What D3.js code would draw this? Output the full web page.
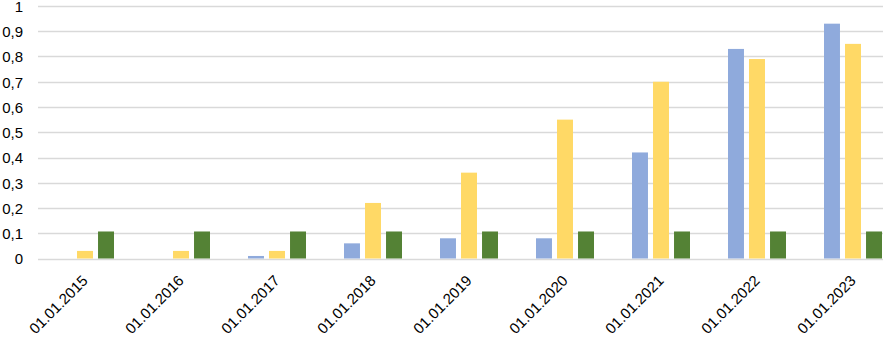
<!DOCTYPE html>
<html>
<head>
<meta charset="utf-8">
<script src="https://cdn.jsdelivr.net/npm/d3@7"></script>
<style>
  body { margin: 0; background: #fff; }
  svg { display: block; font-family: "Liberation Sans", Arial, sans-serif; }
</style>
</head>
<body>
<div id="chart"></div>
<script>
// data
const categories = ["01.01.2015", "01.01.2016", "01.01.2017", "01.01.2018", "01.01.2019",
    "01.01.2020", "01.01.2021", "01.01.2022", "01.01.2023"];
const seriesNames = ["s1", "s2", "s3"];
const blueValues = [0, 0, 0.01, 0.06, 0.08, 0.08, 0.42, 0.83, 0.93];
const yellowValues = [0.03, 0.03, 0.03, 0.22, 0.34, 0.55, 0.70, 0.79, 0.85];
const greenValues = [0.107, 0.107, 0.107, 0.107, 0.107, 0.107, 0.107, 0.107, 0.107];
const yTicks = [0, 0.1, 0.2, 0.3, 0.4, 0.5, 0.6, 0.7, 0.8, 0.9, 1];
const colors = ["#8faadc", "#ffd966", "#548235"];

const width = 883, height = 337;

var svg = d3.select('#chart')
    .append('svg')
    .attr('width', width)
    .attr('height', height);

// plot runs past the right edge of the picture, as in the reference
let x0 = d3.scaleBand()
    .domain(categories)
    .range([37, 901]);

let x1 = d3.scaleBand()
    .domain(seriesNames)
    .range([19, 77])
    .paddingInner(0.24);

let y = d3.scaleLinear()
    .domain([0, 1])
    .range([258.5, 6]);

let fmt = d => d3.format("~g")(d).replace(".", ",");

// gridlines
svg.append('g')
    .selectAll('line')
    .data(yTicks)
    .enter()
    .append('line')
    .attr('x1', 38)
    .attr('x2', width)
    .attr('y1', d => Math.round(y(d)) + 0.5)
    .attr('y2', d => Math.round(y(d)) + 0.5)
    .attr('stroke', '#d9d9d9')
    .attr('stroke-width', 1.3);

// y labels
svg.append('g')
    .selectAll('text')
    .data(yTicks)
    .enter()
    .append('text')
    .attr('x', 23)
    .attr('y', d => y(d) + 0.5)
    .attr('dy', '0.35em')
    .attr('text-anchor', 'end')
    .attr('font-size', 15)
    .attr('fill', '#000')
    .text(fmt);

// bars
let rows = categories.map((c, i) => ({
    cat: c,
    vals: [blueValues[i], yellowValues[i], greenValues[i]]
}));

let groups = svg.append('g')
    .selectAll('g')
    .data(rows)
    .enter()
    .append('g')
    .attr('transform', d => 'translate(' + x0(d.cat) + ',0)');

groups.selectAll('rect')
    .data(d => d.vals.map((v, k) => ({ key: seriesNames[k], v: v, k: k })))
    .enter()
    .append('rect')
    .attr('x', d => x1(d.key))
    .attr('width', x1.bandwidth())
    .attr('y', d => y(d.v))
    .attr('height', d => y(0) - y(d.v))
    .attr('fill', d => colors[d.k]);

// x labels, rotated
svg.append('g')
    .selectAll('text')
    .data(categories)
    .enter()
    .append('text')
    .attr('transform', d => 'translate(' + (x0(d) + x0.bandwidth() / 2) + ',278) rotate(-45)')
    .attr('text-anchor', 'end')
    .attr('dy', '0.35em')
    .attr('font-size', 15)
    .attr('fill', '#000')
    .text(d => d);
</script>
</body>
</html>
